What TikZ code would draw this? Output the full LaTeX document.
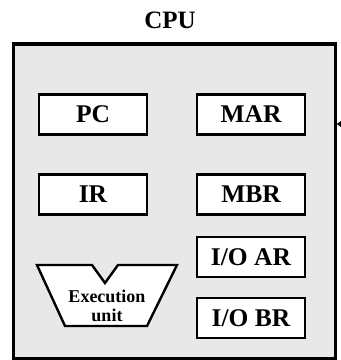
\documentclass[tikz,border=0pt]{standalone}
\usepackage{fontspec}
\setmainfont{Liberation Serif}
\usetikzlibrary{arrows.meta}
\begin{document}
\begin{tikzpicture}[x=1pt,y=-1pt,
  reg/.style={draw=black,line width=2.2pt,fill=white,minimum width=108pt,minimum height=40pt,inner sep=0pt,font=\fontsize{25.5}{28}\selectfont\bfseries},
  lbl/.style={font=\fontsize{25}{28}\selectfont\bfseries},
  eu/.style={font=\fontsize{18}{21}\selectfont\bfseries,align=center,inner sep=0pt}]
\useasboundingbox (0,0) rectangle (341,360);
\node[draw=black,line width=3.5pt,fill=gray!18,minimum width=322pt,minimum height=315pt,inner sep=0pt,anchor=north west] (cpu) at (12,42) {};
\node[lbl] (title) at (170,20) {CPU};
\node[reg] (pc) at (93,114.5) {PC};
\node[reg] (mar) at (251,114.5) {MAR};
\node[reg] (ir) at (93,194.5) {IR};
\node[reg] (mbr) at (251,194.5) {MBR};
\node[reg] (ioar) at (251,257) {I/O AR};
\node[reg] (iobr) at (251,318) {I/O BR};
\draw[line width=2.4pt,fill=white,line join=miter] (37,265) -- (92,265) -- (105,283) -- (118,265) -- (177,265) -- (147,326) -- (65,326) -- cycle;
\node[eu] (exec) at (107,306) {Execution\\[-2pt]unit};
\coordinate (arrsrc) at (360,124);
\draw[line width=1.5pt,-{Latex[length=8pt,width=14pt]}] (arrsrc) -- ([xshift=-1pt]cpu.east |- arrsrc);
\end{tikzpicture}
\end{document}
